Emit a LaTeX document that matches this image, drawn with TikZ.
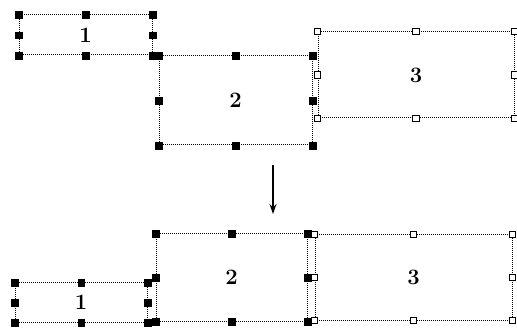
\documentclass[tikz,border=0pt]{standalone}
\usetikzlibrary{arrows.meta}
\begin{document}
\begin{tikzpicture}[x=1pt,y=-1pt]
\tikzset{
 box/.style={draw=black, dash pattern=on 1pt off 1pt, line width=1pt, inner sep=0pt, font=\fontsize{22}{24}\selectfont\bfseries},
 hb/.style={fill=black, draw=black, solid, minimum size=6.5pt, inner sep=0pt, line width=0.4pt},
 hw/.style={fill=white, draw=black, solid, minimum size=6.5pt, inner sep=0pt, line width=1pt},
 arr/.style={-{Stealth[length=10pt,width=7pt]}, line width=1.4pt},
}
\useasboundingbox (0,0) rectangle (517,331);
% top row
\node[box, minimum width=133pt, minimum height=40pt] (t1) at (85.5,35) {1};
\node[box, minimum width=153pt, minimum height=89pt] (t2) at (235.5,100.5) {2};
\node[box, minimum width=196pt, minimum height=86pt] (t3) at (416,75) {3};
% bottom row
\node[box, minimum width=132pt, minimum height=39pt] (b1) at (81,302.5) {1};
\node[box, minimum width=151pt, minimum height=87pt] (b2) at (231.5,277.5) {2};
\node[box, minimum width=197pt, minimum height=85pt] (b3) at (413.5,277.5) {3};
% handles
\foreach \b in {t1,t2,b1,b2}{
  \foreach \a [count=\i] in {north west,north,north east,east,south east,south,south west,west}{
    \node[hb] (\b h\i) at (\b.\a) {};
  }
}
\foreach \b in {t3,b3}{
  \foreach \a [count=\i] in {north west,north,north east,east,south east,south,south west,west}{
    \node[hw] (\b h\i) at (\b.\a) {};
  }
}
% arrow
\coordinate (as) at (273,165);
\coordinate (ae) at (273,214);
\draw[arr] (as) -- (ae);
\end{tikzpicture}
\end{document}
